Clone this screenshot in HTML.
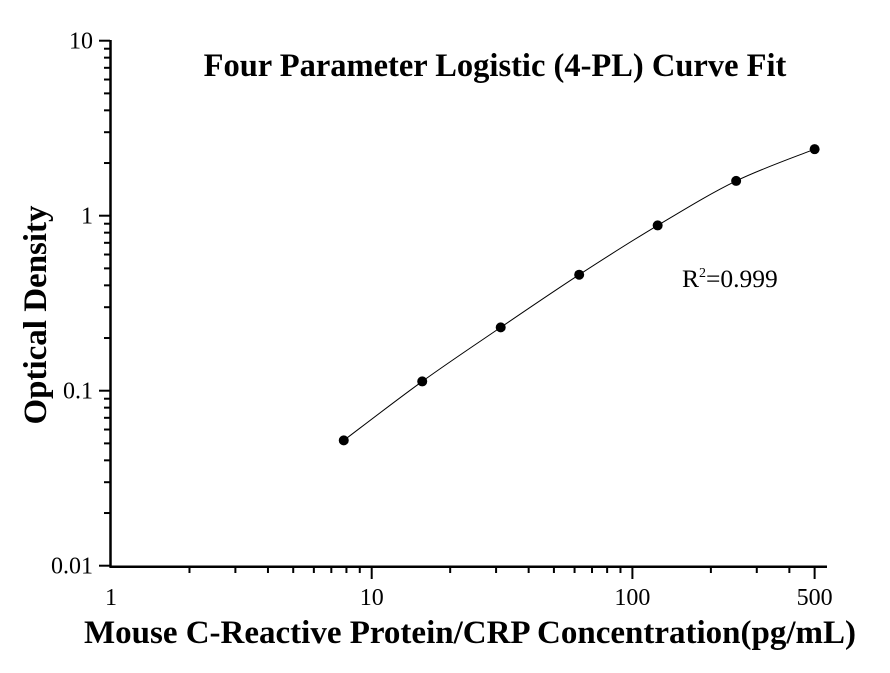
<!DOCTYPE html>
<html><head><meta charset="utf-8"><style>body{margin:0;background:#fff}svg{display:block}text{font-family:"Liberation Serif",serif}</style></head>
<body>
<svg id="s" width="890" height="673" xmlns="http://www.w3.org/2000/svg">
<text x="495" y="76" font-size="32.5" font-weight="bold" text-anchor="middle">Four Parameter Logistic (4-PL) Curve Fit</text>
<text x="470" y="643" font-size="33" font-weight="bold" text-anchor="middle">Mouse C-Reactive Protein/CRP Concentration(pg/mL)</text>
<text transform="translate(46,315) rotate(-90)" font-size="33" font-weight="bold" text-anchor="middle">Optical Density</text>
<text x="682" y="287" font-size="25.5">R<tspan dy="-10" font-size="14">2</tspan><tspan dy="10">=0.999</tspan></text>
<g id="g" stroke="#000" fill="none"></g>
<g id="t" font-size="24"></g>
</svg>
<script>
var g=document.getElementById('g'),t=document.getElementById('t'),ns='http://www.w3.org/2000/svg';
function X(v){return 111+Math.log10(v)*260.7}
function Y(v){return 215.7-Math.log10(v)*175}
function el(p,tag,a,txt){var e=document.createElementNS(ns,tag);for(var k in a)e.setAttribute(k,a[k]);if(txt)e.textContent=txt;p.appendChild(e);return e}
el(g,'line',{x1:110.5,y1:40,x2:110.5,y2:567.5,'stroke-width':2.5});
el(g,'line',{x1:109.5,y1:566.7,x2:827,y2:566.7,'stroke-width':2.5});
for(var d=-2;d<1;d++)for(var m=1;m<10;m++){var v=m*Math.pow(10,d),y=Y(v);el(g,'line',{x1:m==1?99:104,y1:y,x2:110,y2:y,'stroke-width':2});}
el(g,'line',{x1:99,y1:Y(10),x2:110,y2:Y(10),'stroke-width':2});
[['10',10],['1',1],['0.1',0.1],['0.01',0.01]].forEach(function(a){el(t,'text',{x:93,y:Y(a[1])+8,'text-anchor':'end'},a[0])});
for(var d=0;d<3;d++)for(var m=1;m<10;m++){var v=m*Math.pow(10,d);if(v>500)break;if(v==1)continue;var x=X(v);el(g,'line',{x1:x,y1:567,x2:x,y2:(m==1||v==500)?579:573,'stroke-width':2});}
[['1',1],['10',10],['100',100],['500',500]].forEach(function(a){el(t,'text',{x:X(a[1]),y:605,'text-anchor':'middle'},a[0])});
var xs=[7.8125,15.625,31.25,62.5,125,250,500],ys=[0.052,0.113,0.23,0.46,0.88,1.58,2.4];
var P=xs.map(function(v,i){return [X(v),Y(ys[i])]});
var d='M'+P[0][0]+','+P[0][1];
for(var i=0;i<P.length-1;i++){var p0=P[Math.max(i-1,0)],p1=P[i],p2=P[i+1],p3=P[Math.min(i+2,P.length-1)];
d+=' C'+(p1[0]+(p2[0]-p0[0])/6)+','+(p1[1]+(p2[1]-p0[1])/6)+' '+(p2[0]-(p3[0]-p1[0])/6)+','+(p2[1]-(p3[1]-p1[1])/6)+' '+p2[0]+','+p2[1];}
el(g,'path',{d:d,'stroke-width':1});
P.forEach(function(p){el(g,'circle',{cx:p[0],cy:p[1],r:5,fill:'#000',stroke:'none'})});
</script>
</body></html>
